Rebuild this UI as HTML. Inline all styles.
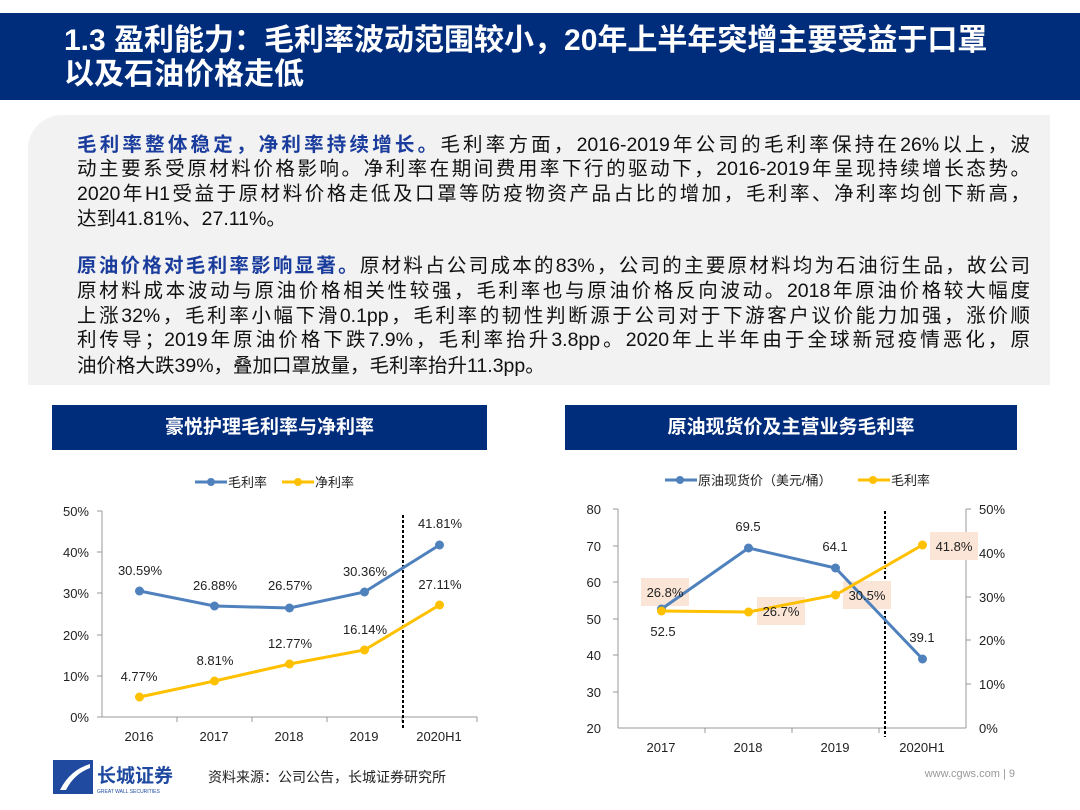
<!DOCTYPE html>
<html><head><meta charset="utf-8"><style>
body{margin:0;width:1080px;height:810px;position:relative;background:#fff;font-family:"Liberation Sans","Noto Sans CJK SC",sans-serif;overflow:hidden}
.hdr{position:absolute;left:0;top:13px;width:1080px;height:87px;background:#002c7c}
.hdr div{position:absolute;left:64px;color:#fff;font-weight:bold;font-size:30px;line-height:34px;white-space:nowrap}
.box{position:absolute;left:28px;top:115px;width:1022px;height:270px;background:#f2f2f2;border-top-left-radius:34px}
.ln{position:absolute;left:77px;width:953px;font-size:19.5px;color:#111;white-space:nowrap;line-height:24px}
.j{text-align:justify;text-align-last:justify;white-space:normal;height:24px;overflow:hidden}
.b{color:#1a3c9c;font-weight:bold}
.ch{position:absolute;top:405px;height:45px;background:#002c7c;color:#fff;font-size:19px;font-weight:bold;text-align:center;line-height:45px}
</style></head><body>
<div class="hdr"><div style="top:11px">1.3 盈利能力：毛利率波动范围较小，20年上半年突增主要受益于口罩</div><div style="top:45px">以及石油价格走低</div></div>
<div class="box"></div>
<div class="ln j" style="top:133px"><span class="b">毛利率整体稳定，净利率持续增长。</span>毛利率方面，2016-2019年公司的毛利率保持在26%以上，波</div>
<div class="ln j" style="top:157px">动主要系受原材料价格影响。净利率在期间费用率下行的驱动下，2016-2019年呈现持续增长态势。</div>
<div class="ln j" style="top:182px">2020年H1受益于原材料价格走低及口罩等防疫物资产品占比的增加，毛利率、净利率均创下新高，</div>
<div class="ln" style="top:207px">达到41.81%、27.11%。</div>
<div class="ln j" style="top:254px"><span class="b">原油价格对毛利率影响显著。</span>原材料占公司成本的83%，公司的主要原材料均为石油衍生品，故公司</div>
<div class="ln j" style="top:279px">原材料成本波动与原油价格相关性较强，毛利率也与原油价格反向波动。2018年原油价格较大幅度</div>
<div class="ln j" style="top:304px">上涨32%，毛利率小幅下滑0.1pp，毛利率的韧性判断源于公司对于下游客户议价能力加强，涨价顺</div>
<div class="ln j" style="top:328px">利传导；2019年原油价格下跌7.9%，毛利率抬升3.8pp。2020年上半年由于全球新冠疫情恶化，原</div>
<div class="ln" style="top:354px">油价格大跌39%，叠加口罩放量，毛利率抬升11.3pp。</div>
<div class="ch" style="left:52px;width:435px">豪悦护理毛利率与净利率</div>
<div class="ch" style="left:565px;width:452px">原油现货价及主营业务毛利率</div>
<svg width="1080" height="810" style="position:absolute;left:0;top:0" font-family="Liberation Sans,Noto Sans CJK SC,sans-serif" font-size="13" fill="#222">
<line x1="195" y1="482" x2="227" y2="482" stroke="#4f81bd" stroke-width="3"/><circle cx="211" cy="482" r="4" fill="#4f81bd"/><text x="228" y="487">毛利率</text>
<line x1="282" y1="482" x2="314" y2="482" stroke="#ffc000" stroke-width="3"/><circle cx="298" cy="482" r="4" fill="#ffc000"/><text x="315" y="487">净利率</text>
<g stroke="#999" stroke-width="1"><line x1="102" y1="511" x2="102" y2="717"/><line x1="102" y1="717" x2="477" y2="717"/>
<line x1="97" y1="511" x2="102" y2="511"/><line x1="97" y1="552" x2="102" y2="552"/><line x1="97" y1="593" x2="102" y2="593"/><line x1="97" y1="635" x2="102" y2="635"/><line x1="97" y1="676" x2="102" y2="676"/><line x1="97" y1="717" x2="102" y2="717"/>
<line x1="177" y1="717" x2="177" y2="722"/><line x1="252" y1="717" x2="252" y2="722"/><line x1="327" y1="717" x2="327" y2="722"/><line x1="402" y1="717" x2="402" y2="722"/><line x1="477" y1="717" x2="477" y2="722"/></g>
<g text-anchor="end"><text x="89" y="516">50%</text><text x="89" y="557">40%</text><text x="89" y="598">30%</text><text x="89" y="640">20%</text><text x="89" y="681">10%</text><text x="89" y="722">0%</text></g>
<g text-anchor="middle"><text x="139" y="741">2016</text><text x="214" y="741">2017</text><text x="289" y="741">2018</text><text x="364" y="741">2019</text><text x="439" y="741">2020H1</text></g>
<line x1="403" y1="515" x2="403" y2="728" stroke="#000" stroke-width="2" stroke-dasharray="3,2"/>
<polyline points="139.5,591 214.5,606 289.5,608 364.5,592 439.5,545" fill="none" stroke="#4f81bd" stroke-width="3"/>
<g fill="#4f81bd"><circle cx="139.5" cy="591" r="4.5"/><circle cx="214.5" cy="606" r="4.5"/><circle cx="289.5" cy="608" r="4.5"/><circle cx="364.5" cy="592" r="4.5"/><circle cx="439.5" cy="545" r="4.5"/></g>
<polyline points="139.5,697 214.5,681 289.5,664 364.5,650 439.5,605" fill="none" stroke="#ffc000" stroke-width="3"/>
<g fill="#ffc000"><circle cx="139.5" cy="697" r="4.5"/><circle cx="214.5" cy="681" r="4.5"/><circle cx="289.5" cy="664" r="4.5"/><circle cx="364.5" cy="650" r="4.5"/><circle cx="439.5" cy="605" r="4.5"/></g>
<g text-anchor="middle"><text x="140" y="575">30.59%</text><text x="215" y="590">26.88%</text><text x="290" y="590">26.57%</text><text x="365" y="576">30.36%</text><text x="440" y="528">41.81%</text>
<text x="139" y="681">4.77%</text><text x="215" y="665">8.81%</text><text x="290" y="648">12.77%</text><text x="365" y="634">16.14%</text><text x="440" y="589">27.11%</text></g>
<line x1="665" y1="480" x2="697" y2="480" stroke="#4f81bd" stroke-width="3"/><circle cx="680" cy="480" r="4" fill="#4f81bd"/><text x="698" y="485">原油现货价（美元/桶）</text>
<line x1="858" y1="480" x2="890" y2="480" stroke="#ffc000" stroke-width="3"/><circle cx="873" cy="480" r="4" fill="#ffc000"/><text x="891" y="485">毛利率</text>
<g stroke="#999" stroke-width="1"><line x1="618" y1="509" x2="618" y2="728"/><line x1="618" y1="728" x2="966" y2="728"/><line x1="966" y1="509" x2="966" y2="728"/>
<line x1="613" y1="509" x2="618" y2="509"/><line x1="613" y1="546" x2="618" y2="546"/><line x1="613" y1="582" x2="618" y2="582"/><line x1="613" y1="619" x2="618" y2="619"/><line x1="613" y1="655" x2="618" y2="655"/><line x1="613" y1="692" x2="618" y2="692"/>
<line x1="966" y1="509" x2="971" y2="509"/><line x1="966" y1="553" x2="971" y2="553"/><line x1="966" y1="597" x2="971" y2="597"/><line x1="966" y1="640" x2="971" y2="640"/><line x1="966" y1="684" x2="971" y2="684"/>
<line x1="705" y1="728" x2="705" y2="733"/><line x1="792" y1="728" x2="792" y2="733"/><line x1="879" y1="728" x2="879" y2="733"/></g>
<g text-anchor="end"><text x="601" y="514">80</text><text x="601" y="551">70</text><text x="601" y="587">60</text><text x="601" y="624">50</text><text x="601" y="660">40</text><text x="601" y="697">30</text><text x="601" y="733">20</text></g>
<g><text x="979" y="514">50%</text><text x="979" y="558">40%</text><text x="979" y="602">30%</text><text x="979" y="645">20%</text><text x="979" y="689">10%</text><text x="979" y="733">0%</text></g>
<g text-anchor="middle"><text x="661" y="752">2017</text><text x="748" y="752">2018</text><text x="835" y="752">2019</text><text x="922" y="752">2020H1</text></g>
<line x1="885" y1="511" x2="885" y2="737" stroke="#000" stroke-width="2" stroke-dasharray="3,2"/>
<rect x="641" y="578" width="48" height="28" fill="#fbe5d6"/><rect x="757" y="597" width="48" height="28" fill="#fbe5d6"/><rect x="843" y="581" width="48" height="28" fill="#fbe5d6"/><rect x="930" y="532" width="48" height="28" fill="#fbe5d6"/>
<polyline points="661.5,609 748.5,548 835.5,568 922.5,659" fill="none" stroke="#4f81bd" stroke-width="3"/>
<g fill="#4f81bd"><circle cx="661.5" cy="609" r="4.5"/><circle cx="748.5" cy="548" r="4.5"/><circle cx="835.5" cy="568" r="4.5"/><circle cx="922.5" cy="659" r="4.5"/></g>
<polyline points="661.5,611 748.5,612 835.5,595 922.5,545" fill="none" stroke="#ffc000" stroke-width="3"/>
<g fill="#ffc000"><circle cx="661.5" cy="611" r="4.5"/><circle cx="748.5" cy="612" r="4.5"/><circle cx="835.5" cy="595" r="4.5"/><circle cx="922.5" cy="545" r="4.5"/></g>
<g text-anchor="middle"><text x="665" y="597">26.8%</text><text x="781" y="616">26.7%</text><text x="867" y="600">30.5%</text><text x="954" y="551">41.8%</text>
<text x="663" y="636">52.5</text><text x="748" y="531">69.5</text><text x="835" y="551">64.1</text><text x="922" y="642">39.1</text></g>
<rect x="53" y="760" width="40" height="34" fill="#1f4aa0"/>
<path d="M60 790 Q70 770 90 764 L90 768 Q74 774 66 790Z" fill="#fff"/>
<text x="97" y="782" font-size="19" font-weight="bold" fill="#1f4aa0">长城证券</text>
<text x="97" y="793" font-size="5" fill="#1f4aa0">GREAT WALL SECURITIES</text>
<text x="208" y="782" font-size="14">资料来源：公司公告，长城证券研究所</text>
<text x="1015" y="777" font-size="11" fill="#999" text-anchor="end">www.cgws.com | 9</text>
</svg>
</body></html>
